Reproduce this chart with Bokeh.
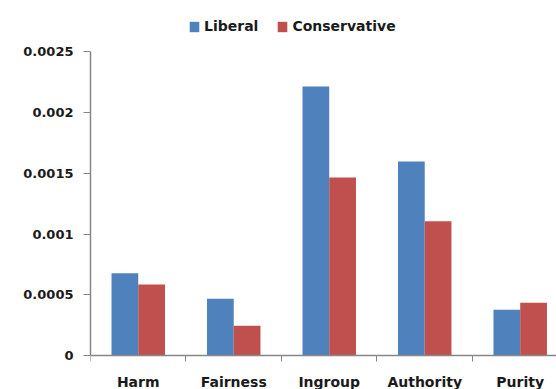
from bokeh.plotting import figure
from bokeh.models import Range1d, FixedTicker, Legend, LegendItem, ColumnDataSource
from bokeh.embed import file_html
from bokeh.resources import INLINE

categories = ["Harm", "Fairness", "Ingroup", "Authority", "Purity"]
liberal = [0.000678, 0.000467, 0.002216, 0.001598, 0.000376]
conservative = [0.000585, 0.000245, 0.001466, 0.001106, 0.000434]
y_ticks = [0, 0.0005, 0.001, 0.0015, 0.002, 0.0025]
y_tick_labels = ["0", "0.0005", "0.001", "0.0015", "0.002", "0.0025"]

BLUE = "#4F81BD"
RED = "#C0504D"
FONT = "DejaVu Sans"
AXIS_COLOR = "#868686"
TEXT_COLOR = "#1a1a1a"

bar_w = 0.28
centers = [i + 0.5 for i in range(len(categories))]
src = ColumnDataSource(dict(
    xl=[c - bar_w / 2 for c in centers],
    xc=[c + bar_w / 2 for c in centers],
    lib=liberal,
    con=conservative,
))

p = figure(width=556, height=389, output_backend="svg", toolbar_location=None,
           x_range=Range1d(0, 4.88), y_range=Range1d(-0.00028, 0.002924),
           min_border_left=90, min_border_right=0, min_border_top=0, min_border_bottom=0)
p.outline_line_color = None
p.xgrid.visible = False
p.ygrid.visible = False
p.background_fill_color = "white"
p.border_fill_color = "white"

r1 = p.vbar(x="xl", top="lib", width=bar_w, source=src, fill_color=BLUE, line_color=None)
r2 = p.vbar(x="xc", top="con", width=bar_w, source=src, fill_color=RED, line_color=None)

xa = p.xaxis[0]
xa.fixed_location = 0
xa.ticker = FixedTicker(ticks=centers, minor_ticks=list(range(len(categories) + 1)))
xa.major_label_overrides = {c: name for c, name in zip(centers, categories)}
xa.major_tick_out = 0
xa.major_tick_in = 0
xa.minor_tick_out = 6
xa.minor_tick_in = 0
xa.minor_tick_line_color = AXIS_COLOR
xa.axis_line_color = AXIS_COLOR
xa.axis_line_width = 1.5
xa.major_label_standoff = 12
xa.major_label_text_font = FONT
xa.major_label_text_font_size = "14px"
xa.major_label_text_font_style = "bold"
xa.major_label_text_color = TEXT_COLOR

ya = p.yaxis[0]
ya.ticker = FixedTicker(ticks=y_ticks, minor_ticks=[])
ya.major_label_overrides = {t: s for t, s in zip(y_ticks, y_tick_labels)}
ya.bounds = (0, 0.0025)
ya.major_tick_out = 7
ya.major_tick_in = 0
ya.minor_tick_out = 0
ya.minor_tick_in = 0
ya.major_tick_line_color = AXIS_COLOR
ya.axis_line_color = AXIS_COLOR
ya.axis_line_width = 1.5
ya.major_label_standoff = 10
ya.major_label_text_font = FONT
ya.major_label_text_font_size = "13px"
ya.major_label_text_font_style = "bold"
ya.major_label_text_color = TEXT_COLOR

legend = Legend(items=[LegendItem(label="Liberal", renderers=[r1]),
                       LegendItem(label="Conservative", renderers=[r2])],
                orientation="horizontal", location=(98, 355),
                padding=0, margin=0, spacing=18, glyph_width=12, glyph_height=13,
                label_standoff=4, label_text_font=FONT, label_text_font_size="14px",
                label_text_font_style="bold", label_text_color=TEXT_COLOR,
                border_line_color=None, background_fill_alpha=0)
p.add_layout(legend)

open("out.html", "w").write(file_html(p, INLINE))
